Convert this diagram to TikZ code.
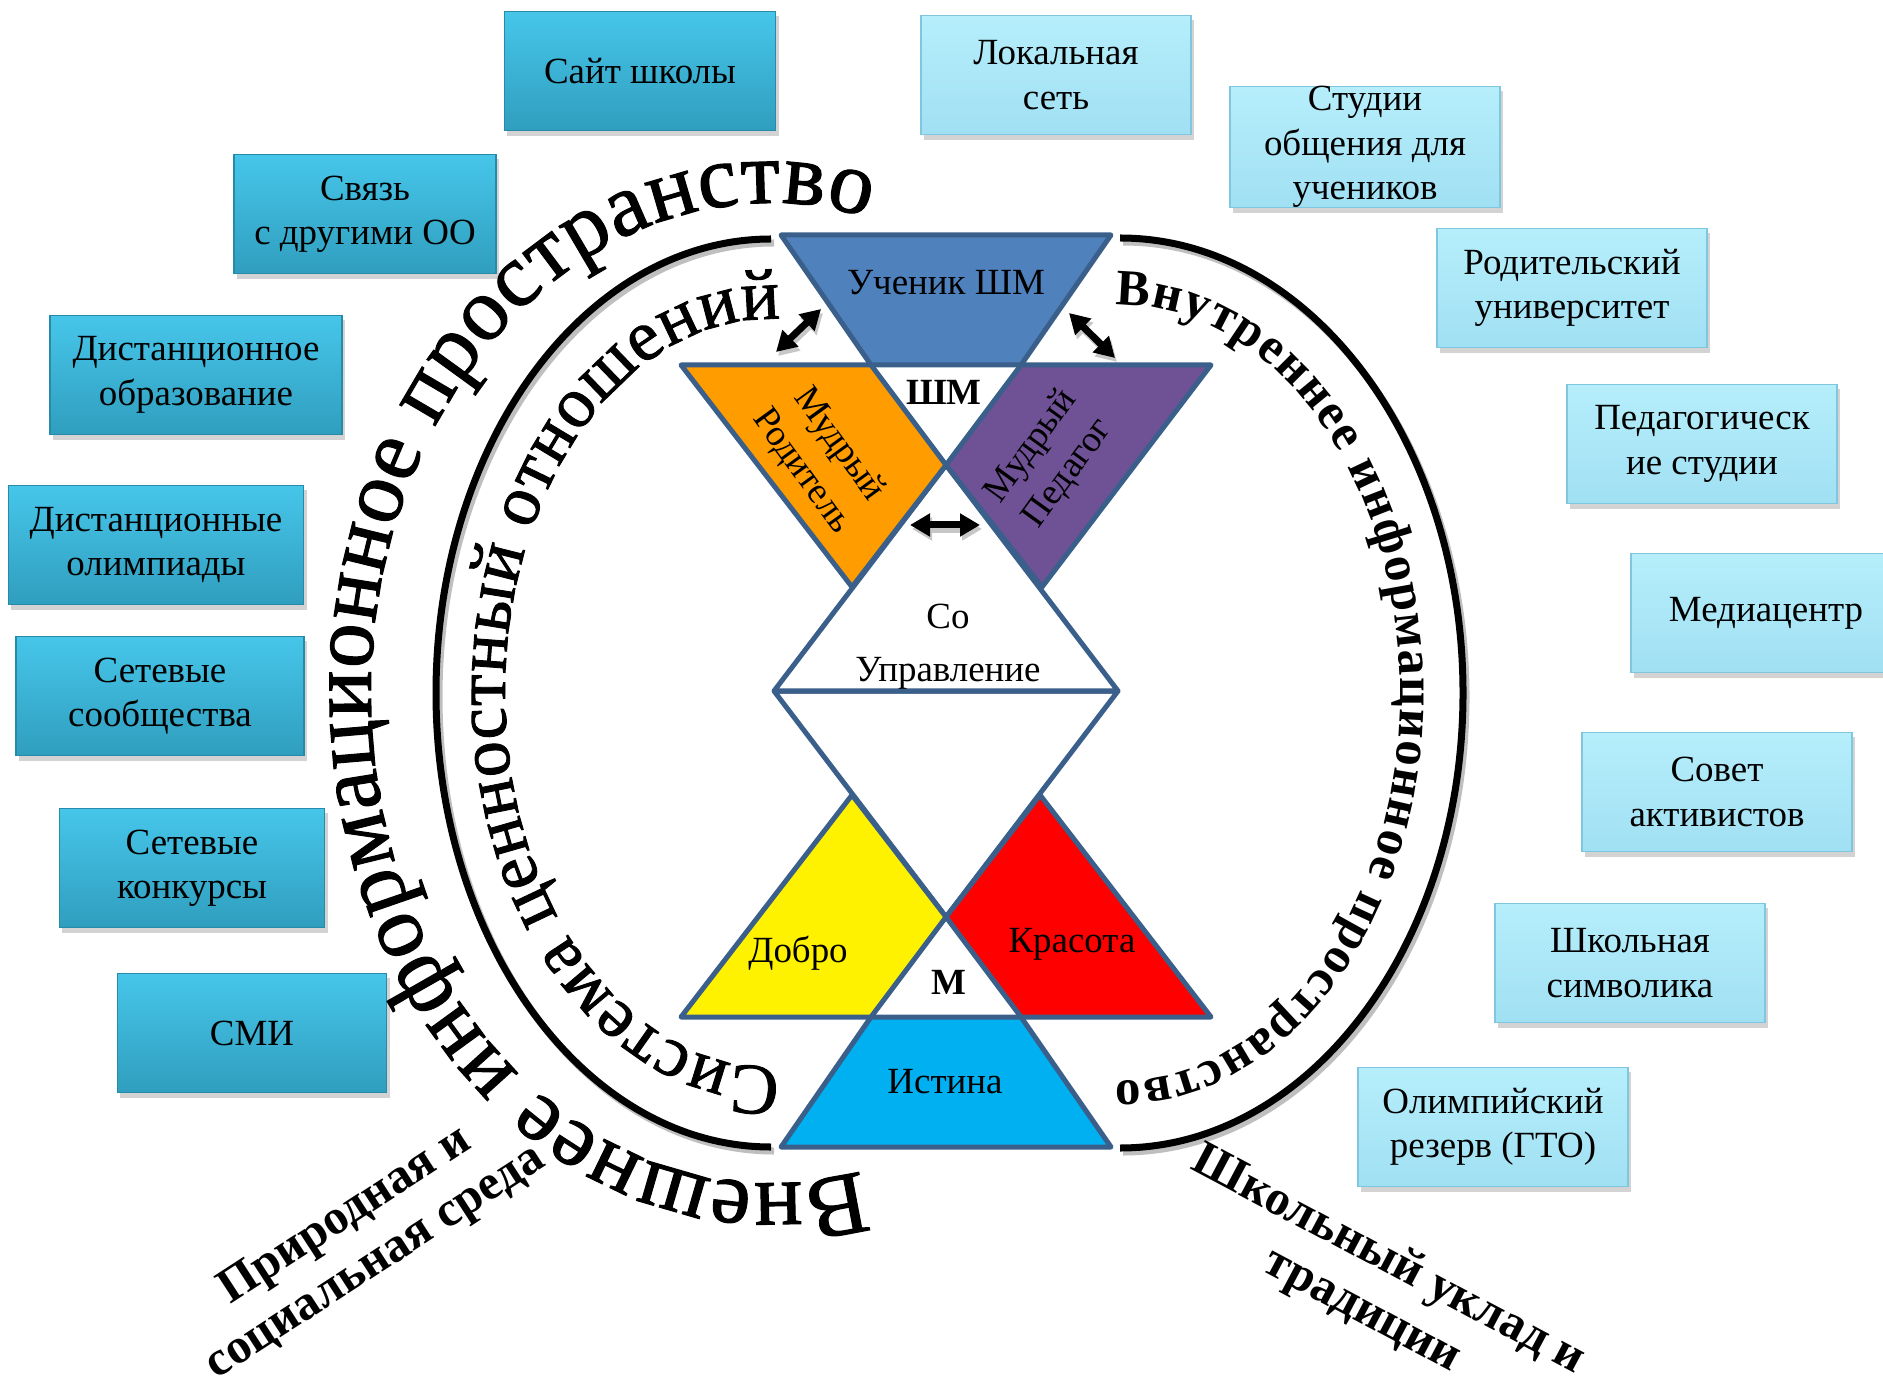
\documentclass[tikz,border=0pt]{standalone}
\usepackage{fontspec}
\setmainfont{Liberation Serif}
\newfontfamily\heavyserif{Liberation Serif}[FakeBold=1.2]
\usetikzlibrary{arrows.meta,shadows,decorations.text}

\definecolor{frame}{RGB}{58,95,138}
\definecolor{pupilblue}{RGB}{79,129,189}
\definecolor{parentorange}{RGB}{255,156,0}
\definecolor{teacherviolet}{RGB}{111,81,150}
\definecolor{truthblue}{RGB}{0,176,240}
\definecolor{exttop}{RGB}{70,198,234}
\definecolor{extbottom}{RGB}{48,158,190}
\definecolor{extline}{RGB}{38,138,168}
\definecolor{inttop}{RGB}{182,238,251}
\definecolor{intbottom}{RGB}{160,224,243}
\definecolor{intline}{RGB}{128,198,222}

\tikzset{
  extbox/.style={draw=extline, line width=0.4pt, top color=exttop, bottom color=extbottom,
    minimum width=2.7cm, minimum height=1.19cm, align=center, inner sep=0pt,
    font=\fontsize{10.5}{12.6}\selectfont,
    drop shadow={shadow xshift=0.03cm, shadow yshift=-0.05cm, opacity=0.35}},
  intbox/.style={extbox, draw=intline, top color=inttop, bottom color=intbottom},
  piece/.style={draw=frame, line width=0.05cm, line join=round},
  piecelabel/.style={align=center, inner sep=0pt, font=\fontsize{10.5}{13}\selectfont},
  dblarrow/.style={{Triangle[width=0.22cm,length=0.2cm]}-{Triangle[width=0.22cm,length=0.2cm]}, line width=0.07cm},
  arrowshadow/.style={dblarrow, black!22, transform canvas={xshift=0.02cm, yshift=-0.04cm}},
  bigarc/.style={line width=0.07cm},
  envtext/.style={align=center, inner sep=0pt, font=\bfseries\fontsize{14}{15.8}\selectfont}
}

\begin{document}
\begin{tikzpicture}[x=0.01cm, y=0.01cm]
\useasboundingbox (0,0) rectangle (1883,-1383);

% outer world (left)
\node[extbox, minimum width=2.71cm] (site) at (640,-71) {Сайт школы};
\node[extbox, minimum width=2.62cm] (link) at (365,-214) {Связь\\с другими ОО};
\node[extbox, minimum width=2.92cm] (distedu) at (196,-375) {Дистанционное\\образование};
\node[extbox, minimum width=2.95cm] (distolymp) at (156,-545) {Дистанционные\\олимпиады};
\node[extbox, minimum width=2.88cm] (netcomm) at (160,-696) {Сетевые\\сообщества};
\node[extbox, minimum width=2.65cm] (netcontest) at (192,-868) {Сетевые\\конкурсы};
\node[extbox, minimum width=2.69cm] (smi) at (252,-1033) {СМИ};

% inner world (right)
\node[intbox] (lan) at (1056,-75) {Локальная\\сеть};
\node[intbox] (studio) at (1365,-147) {Студии\\общения для\\учеников};
\node[intbox] (parentuni) at (1572,-288) {Родительский\\университет};
\node[intbox] (pedstudio) at (1702,-444) {Педагогическ\\ие студии};
\node[intbox] (mediacentre) at (1766,-613) {Медиацентр};
\node[intbox] (council) at (1717,-792) {Совет\\активистов};
\node[intbox] (symbols) at (1630,-963) {Школьная\\символика};
\node[intbox] (olymp) at (1493,-1127) {Олимпийский\\резерв (ГТО)};

% the two arcs
\draw[bigarc, black!25, xshift=0.03cm, yshift=-0.04cm] (771,-239) arc[start angle=90, end angle=270, x radius=335, y radius=454];
\draw[bigarc] (771,-239) arc[start angle=90, end angle=270, x radius=335, y radius=454];
\draw[bigarc, black!25, xshift=0.03cm, yshift=-0.04cm] (1120,-238) arc[start angle=90, end angle=-90, x radius=343, y radius=455];
\draw[bigarc] (1120,-238) arc[start angle=90, end angle=-90, x radius=343, y radius=455];

% texts round the arcs
\path[decorate, decoration={text along path, text align=fit to path,
    text={|\heavyserif\fontsize{25.5}{30}\selectfont|Внешнее информационное пространство}}]
  (771,-693) ++(283:400 and 490) arc[start angle=283, end angle=76, x radius=400, y radius=490];
\path[decorate, decoration={text along path, text align=fit to path,
    text={|\heavyserif\fontsize{20.5}{25}\selectfont|Система ценностный отношений}}]
  (771,-693) ++(272:266 and 374) arc[start angle=272, end angle=88, x radius=266, y radius=374];
\path[decorate, decoration={text along path, text align=fit to path,
    text={|\bfseries\fontsize{14.5}{18}\selectfont|Внутреннее информационное пространство}}]
  (1120,-693) ++(91:280 and 388) arc[start angle=91, end angle=-91, x radius=280, y radius=388];

% lower half
\draw[piece, fill=white] (774,-691) -- (1118,-691) -- (946,-917) -- cycle;
\draw[piece, fill=yellow] (852,-795) -- (946,-917) -- (871,-1017) -- (681,-1017) -- cycle;
\draw[piece, fill=red] (1040,-795) -- (1211,-1017) -- (1021,-1017) -- (946,-917) -- cycle;
\draw[piece, fill=truthblue] (871,-1017) -- (1021,-1017) -- (1111,-1147) -- (781,-1147) -- cycle;

% upper half
\draw[piece, fill=white] (946,-465) -- (1118,-691) -- (774,-691) -- cycle;
\draw[piece, fill=parentorange] (681,-365) -- (871,-365) -- (946,-465) -- (852,-587) -- cycle;
\draw[piece, fill=teacherviolet] (1021,-365) -- (1211,-365) -- (1042,-587) -- (946,-465) -- cycle;
\draw[piece, fill=pupilblue] (781,-235) -- (1111,-235) -- (1021,-365) -- (871,-365) -- cycle;

\node[piecelabel] (pupil) at (946,-283) {Ученик ШМ};
\node[piecelabel, font=\bfseries\fontsize{10.5}{13}\selectfont] (shm) at (944,-392) {ШМ};
\node[piecelabel, rotate=-54] (wiseparent) at (820,-458) {Мудрый\\Родитель};
\node[piecelabel, rotate=54] (wiseteacher) at (1050,-460) {Мудрый\\Педагог};
\node[piecelabel, font=\fontsize{10.5}{15}\selectfont] (selfrule) at (948,-647) {Со\\Управление};
\node[piecelabel] (good) at (798,-953) {Добро};
\node[piecelabel] (beauty) at (1072,-944) {Красота};
\node[piecelabel, font=\bfseries\fontsize{10.5}{13}\selectfont] (mm) at (949,-982) {М};
\node[piecelabel] (truth) at (945,-1082) {Истина};

% arrows
\coordinate (la) at (776,-352);
\coordinate (lb) at (821,-309);
\coordinate (ra) at (1069,-313);
\coordinate (rb) at (1115,-358);
\coordinate (ca) at (910,-525);
\coordinate (cb) at (980,-525);
\draw[arrowshadow] (la) -- (lb);
\draw[arrowshadow] (ra) -- (rb);
\draw[arrowshadow] (ca) -- (cb);
\draw[dblarrow] (la) -- (lb);
\draw[dblarrow] (ra) -- (rb);
\draw[dblarrow] (ca) -- (cb);

% environment captions
\node[envtext, rotate=33] (nature) at (361,-1240) {Природная и\\социальная среда};
\node[envtext, rotate=-28, font=\bfseries\fontsize{14}{16}\selectfont] (tradition) at (1375,-1286) {Школьный уклад и\\традиции};
\end{tikzpicture}
\end{document}
